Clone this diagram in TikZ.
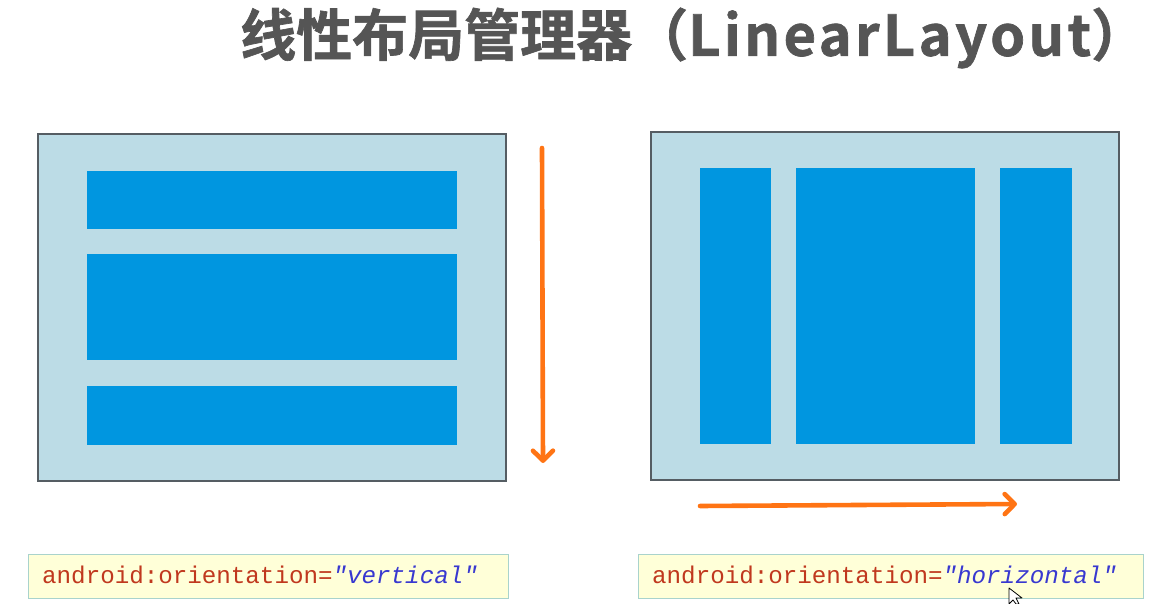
\documentclass[tikz,border=0pt]{standalone}
\usepackage{fontspec}
\newfontfamily\cjk{Noto Sans CJK SC}[BoldFont={* Bold}, BoldFeatures={FakeBold=1.2}]
\setmonofont{Liberation Mono}
\usetikzlibrary{arrows.meta}
\definecolor{panelfill}{HTML}{BCDCE6}
\definecolor{panelline}{HTML}{555D63}
\definecolor{barblue}{HTML}{0096E0}
\definecolor{arroworange}{HTML}{FF7414}
\definecolor{labelfill}{HTML}{FFFFD8}
\definecolor{labelline}{HTML}{A9D3CC}
\definecolor{attrred}{HTML}{C0381E}
\definecolor{valblue}{HTML}{3838D0}
\definecolor{titlegray}{HTML}{555555}
\tikzset{
  panel/.style={draw=panelline, line width=1.6pt, fill=panelfill, inner sep=0pt},
  bar/.style={fill=barblue, draw=none, inner sep=0pt},
  flowarrow/.style={draw=arroworange, line width=4.6pt, line cap=round,
    -{Straight Barb[length=10pt,width=20pt,line cap=round,line join=round]}},
  codebox/.style={draw=labelline, line width=1pt, fill=labelfill},
  codetext/.style={inner sep=0pt, anchor=base west,
    font=\ttfamily\fontsize{24.2}{28}\selectfont},
}
\begin{document}
\begin{tikzpicture}[x=1pt,y=-1pt]
\useasboundingbox (0,0) rectangle (1160,604);
% title
\node[inner sep=0pt, anchor=west, text=titlegray,
  font=\cjk\bfseries\fontsize{56}{60}\selectfont] (title) at (240,38)
  {线性布局管理器（{\addfontfeatures{LetterSpace=6}LinearLayout}）};
% left panel
\node[panel, minimum width=468pt, minimum height=347pt] (leftpanel) at (272,307.5) {};
\node[bar, minimum width=370pt, minimum height=58pt] (vbar1) at (272,200) {};
\node[bar, minimum width=370pt, minimum height=106pt] (vbar2) at (272,307) {};
\node[bar, minimum width=370pt, minimum height=59pt] (vbar3) at (272,415.5) {};
\coordinate (vstart) at (542,148);
\coordinate (vend) at (543,463);
\draw[flowarrow] (vstart) -- (vend);
% right panel
\node[panel, minimum width=468pt, minimum height=348pt] (rightpanel) at (885,306) {};
\node[bar, minimum width=71pt, minimum height=276pt] (hbar1) at (735.5,306) {};
\node[bar, minimum width=179pt, minimum height=276pt] (hbar2) at (885.5,306) {};
\node[bar, minimum width=72pt, minimum height=276pt] (hbar3) at (1036,306) {};
\coordinate (hstart) at (700,506);
\coordinate (hend) at (1017,504);
\draw[flowarrow] (hstart) -- (hend);
% code labels
\node[codebox, minimum width=480pt, minimum height=44pt] (leftbox) at (268,576) {};
\node[codetext] (lefttext) at (42,583)
  {\textcolor{attrred}{android:orientation=}\textcolor{valblue}{\itshape"vertical"}};
\node[codebox, minimum width=505pt, minimum height=44pt] (rightbox) at (890.5,576) {};
\node[codetext] (righttext) at (652,583)
  {\textcolor{attrred}{android:orientation=}\textcolor{valblue}{\itshape"horizontal"}};
% mouse cursor
\draw[black, fill=white, line width=0.8pt, line join=round]
  (1009,588) -- (1009,604) -- (1013,600) -- (1016,604) -- (1019,604) -- (1016,598) -- (1022,598) -- cycle;
\end{tikzpicture}
\end{document}
